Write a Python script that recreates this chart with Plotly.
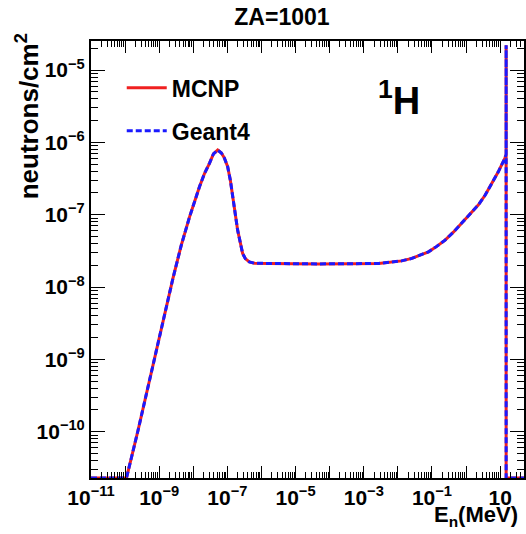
import plotly.graph_objects as go

# ---- data (E in MeV, flux in neutrons/cm^2) ----
energy_mev = [1e-11, 1.10e-10, 2.40e-10, 8.28e-10, 2.53e-9, 4.45e-9, 7.78e-9, 1.52e-8,
              2.13e-8, 2.98e-8, 3.90e-8, 5.21e-8, 6.68e-8, 8.17e-8, 1.02e-7, 1.22e-7,
              1.43e-7, 2.00e-7, 2.80e-7, 3.36e-7, 4.39e-7, 6.14e-7, 1.68e-6, 4.85e-5,
              2.74e-3, 1.29e-2, 2.57e-2, 4.32e-2, 7.91e-2, 0.135, 0.243, 0.425, 0.741,
              1.29, 2.28, 3.65, 5.57, 8.75, 13.7,
              15.0, 15.0, 15.0, 55.0]
flux_mcnp = [2.3e-11, 2.3e-11, 1.05e-10, 1.34e-9, 1.32e-8, 3.80e-8, 9.35e-8, 2.43e-7,
             3.71e-7, 5.13e-7, 6.92e-7, 7.82e-7, 7.11e-7, 6.07e-7, 4.60e-7, 3.01e-7,
             1.77e-7, 6.12e-8, 2.92e-8, 2.47e-8, 2.23e-8, 2.14e-8, 2.12e-8, 2.09e-8,
             2.12e-8, 2.30e-8, 2.49e-8, 2.72e-8, 3.07e-8, 3.62e-8, 4.46e-8, 5.74e-8, 7.59e-8,
             1.00e-7, 1.36e-7, 1.87e-7, 2.65e-7, 3.88e-7, 6.01e-7,
             6.8e-7, 2.2e-5, 2.3e-11, 2.3e-11]
flux_geant4 = list(flux_mcnp)

x_major = [10.0 ** k for k in range(-11, 2)]
x_labels = ["10<sup>\u221211</sup>", "", "10<sup>\u22129</sup>", "", "10<sup>\u22127</sup>", "",
            "10<sup>\u22125</sup>", "", "10<sup>\u22123</sup>", "", "10<sup>\u22121</sup>", "", "10"]
y_major = [10.0 ** k for k in range(-10, -4)]
y_labels = ["10<sup>\u221210</sup>", "10<sup>\u22129</sup>", "10<sup>\u22128</sup>",
            "10<sup>\u22127</sup>", "10<sup>\u22126</sup>", "10<sup>\u22125</sup>"]

x_minor = [m * 10.0 ** k for k in range(-12, 2) for m in range(2, 10)]
y_minor = [m * 10.0 ** k for k in range(-11, -4) for m in range(2, 10)]

FONT = "Liberation Sans, Arial, Helvetica, sans-serif"

fig = go.Figure()
fig.add_trace(go.Scatter(x=energy_mev, y=flux_mcnp, mode="lines", name="MCNP",
                         legendgroup="a",
                         line=dict(color="#f02020", width=3)))
fig.add_trace(go.Scatter(x=energy_mev, y=flux_geant4, mode="lines", name="Geant4",
                         legendgroup="b",
                         line=dict(color="#1a1aff", width=3, dash="6px,3px")))

axis_common = dict(
    showline=True, linecolor="black", linewidth=2, mirror="ticks",
    ticks="inside", tickcolor="black", tickwidth=1, showgrid=False, zeroline=False,
    tickfont=dict(family=FONT, size=21, color="black", weight="bold"),
)

fig.update_xaxes(type="log", range=[-11, 1.70], tickmode="array",
                 tickvals=x_major, ticktext=x_labels, ticklen=12,
                 minor=dict(tickmode="array", tickvals=x_minor, ticks="inside",
                            ticklen=6, tickcolor="black", tickwidth=1),
                 **axis_common)
fig.update_yaxes(type="log", range=[-10.639, -4.599], tickmode="array",
                 tickvals=y_major, ticktext=y_labels, ticklen=14,
                 minor=dict(tickmode="array", tickvals=y_minor, ticks="inside",
                            ticklen=7, tickcolor="black", tickwidth=1),
                 **axis_common)

fig.update_layout(
    width=526, height=534,
    margin=dict(l=91, r=0, t=41, b=56),
    paper_bgcolor="white", plot_bgcolor="white",
    title=dict(text="ZA=1001", x=0.536, xanchor="center", y=0.968, yanchor="middle",
               xref="container", yref="container",
               font=dict(family=FONT, size=23, color="black", weight="bold")),
    legend=dict(x=0.071, y=0.942, xanchor="left", yanchor="top", itemwidth=40,
                bgcolor="rgba(0,0,0,0)", traceorder="grouped", tracegroupgap=10,
                font=dict(family=FONT, size=23, color="black", weight="bold")),
    showlegend=True,
    annotations=[
        dict(text="<sup>1</sup>H", xref="paper", yref="paper",
             x=(400 - 91) / 435, y=(477.7 - 98) / 436.7, xanchor="center", yanchor="middle",
             showarrow=False, font=dict(family=FONT, size=38, color="black", weight="bold")),
        dict(text="neutrons/cm<sup>2</sup>", xref="paper", yref="paper", textangle=-90,
             x=(27 - 91) / 435, y=(477.7 - 116) / 436.7, xanchor="center", yanchor="middle",
             showarrow=False, font=dict(family=FONT, size=26, color="black", weight="bold")),
        dict(text="E<sub>n</sub>(MeV)", xref="paper", yref="paper",
             x=(522 - 91) / 435, y=-(516 - 477.7) / 436.7, xanchor="right", yanchor="middle",
             showarrow=False, font=dict(family=FONT, size=22, color="black", weight="bold")),
    ],
)

fig.write_html("out.html")
